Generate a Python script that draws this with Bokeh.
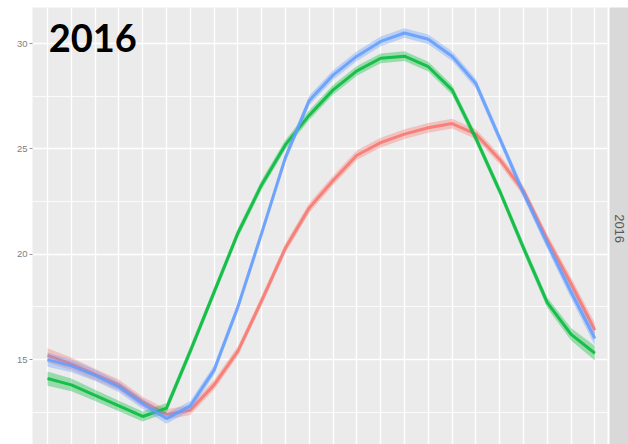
import numpy as np
from bokeh.plotting import figure
from bokeh.models import Range1d, FixedTicker, Label
from bokeh.layouts import row
from bokeh.core.properties import value
from bokeh.embed import file_html
from bokeh.resources import INLINE

# ---- data ----
periods = list(range(1, 25))
red_vals = [15.2, 14.8, 14.3, 13.8, 13.0, 12.4, 12.6, 13.8, 15.4, 17.8, 20.3, 22.2,
            23.5, 24.7, 25.3, 25.7, 26.0, 26.2, 25.7, 24.5, 23.0, 20.7, 18.6, 16.4]
green_vals = [14.1, 13.8, 13.3, 12.8, 12.3, 12.7, 15.4, 18.2, 21.0, 23.3, 25.2, 26.6,
              27.8, 28.7, 29.3, 29.4, 28.9, 27.8, 25.5, 23.0, 20.3, 17.7, 16.2, 15.3]
blue_vals = [15.0, 14.7, 14.25, 13.7, 12.9, 12.2, 12.8, 14.5, 17.5, 21.0, 24.6, 27.3,
             28.5, 29.4, 30.1, 30.5, 30.2, 29.4, 28.1, 25.5, 22.9, 20.5, 18.2, 16.0]
ci_half = [0.34, 0.3, 0.27, 0.25, 0.24, 0.24, 0.23, 0.23, 0.23, 0.23, 0.23, 0.23,
           0.23, 0.23, 0.23, 0.23, 0.23, 0.23, 0.23, 0.23, 0.24, 0.25, 0.3, 0.34]
y_ticks = [15, 20, 25, 30]
y_minor = [12.5, 17.5, 22.5, 27.5]
facet_label = ["2016"]
big_title = "2016"

series = [(red_vals, "#F8766D"), (green_vals, "#00BA38"), (blue_vals, "#619CFF")]

p = figure(width=609, height=444, output_backend="svg", toolbar_location=None,
           x_range=Range1d(0.37, 24.53), y_range=Range1d(10.97, 31.71),
           x_axis_location=None,
           min_border_left=32, min_border_right=2, min_border_top=7, min_border_bottom=0)
p.background_fill_color = "#EBEBEB"
p.border_fill_color = "white"
p.outline_line_color = None

p.xgrid.ticker = FixedTicker(ticks=periods)
p.xgrid.grid_line_color = "white"
p.xgrid.grid_line_width = 1.3
p.ygrid.ticker = FixedTicker(ticks=y_ticks, minor_ticks=y_minor)
p.ygrid.grid_line_color = "white"
p.ygrid.grid_line_width = 1.6
p.ygrid.minor_grid_line_color = "white"
p.ygrid.minor_grid_line_width = 0.8

ax = p.yaxis[0]
ax.ticker = FixedTicker(ticks=y_ticks)
ax.axis_line_color = None
ax.major_tick_out = 3
ax.major_tick_in = 0
ax.major_tick_line_color = "#999999"
ax.minor_tick_line_color = None
ax.major_label_standoff = 2
ax.major_label_text_font = "Liberation Sans"
ax.major_label_text_font_size = "9.5px"
ax.major_label_text_color = "#808080"

for vals, col in series:
    lo = [v - c for v, c in zip(vals, ci_half)]
    hi = [v + c for v, c in zip(vals, ci_half)]
    p.varea(x=periods, y1=lo, y2=hi, fill_color=col, fill_alpha=0.35)
    p.line(periods, vals, line_color=col, line_width=3, line_alpha=0.85, line_join="round")

p.add_layout(Label(x=1.05, y=30.25, text=big_title, text_font="Lato",
                   text_font_style="bold", text_font_size="38px", text_color="black",
                   text_align="left", text_baseline="alphabetic"))

s = figure(width=19, height=444, output_backend="svg", toolbar_location=None,
           x_range=Range1d(0, 1), y_range=Range1d(0, 1),
           x_axis_location=None, y_axis_location=None,
           min_border_left=0, min_border_right=0, min_border_top=7, min_border_bottom=0)
s.background_fill_color = "#D9D9D9"
s.border_fill_color = "white"
s.outline_line_color = None
s.xgrid.visible = False
s.ygrid.visible = False
s.text(x=[0.5], y=[0.494], text=facet_label, angle=-np.pi / 2, text_align="center",
       text_baseline="middle", text_font=value("Liberation Sans"), text_font_size="13px",
       text_color="#5a5a5a")

layout = row(p, s, spacing=0)
open("out.html", "w").write(file_html(layout, INLINE))
